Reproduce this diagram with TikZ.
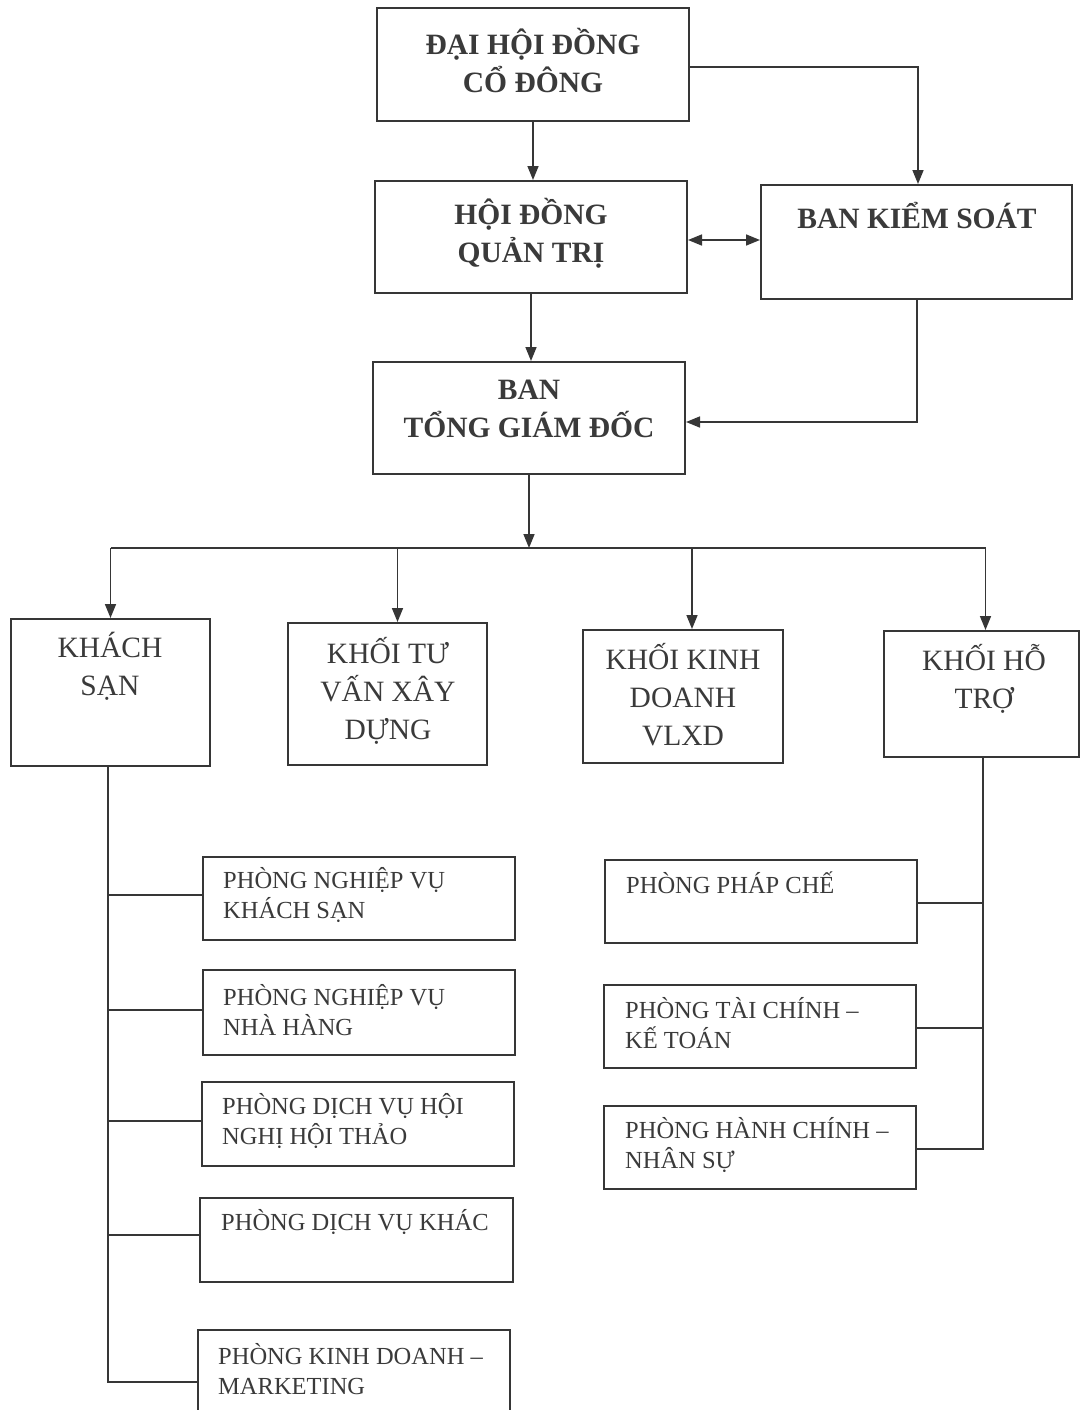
\documentclass[tikz,border=0pt]{standalone}
\usepackage{fontspec}
\setmainfont{Liberation Serif}
\usetikzlibrary{arrows.meta}
\definecolor{ink}{HTML}{363636}
\definecolor{txtc}{HTML}{3A3A3A}
\begin{document}
\begin{tikzpicture}[x=1pt,y=-1pt,
  box/.style={draw=ink, line width=2pt, rectangle, inner sep=0pt},
  topt/.style={text=txtc, align=center, font={\bfseries\fontsize{29.5}{38}\selectfont}},
  midt/.style={text=txtc, align=center, font={\fontsize{29.5}{38}\selectfont}},
  lowt/.style={text=txtc, align=left, anchor=west, inner sep=0pt, font={\fontsize{24.5}{30}\selectfont}},
  conn/.style={draw=ink, line width=1.6pt},
  arr/.style={conn, -{Triangle[length=14pt,width=11pt]}},
  darr/.style={conn, {Triangle[length=14pt,width=11pt]}-{Triangle[length=14pt,width=11pt]}}]
\useasboundingbox[fill=white] (0,0) rectangle (1080,1410);

% top level boxes
\node[box, minimum width=312pt, minimum height=113pt] (dh) at (533,64.5) {};
\node[box, minimum width=312pt, minimum height=112pt] (hd) at (531,237) {};
\node[box, minimum width=311pt, minimum height=114pt] (bks) at (916.5,242) {};
\node[box, minimum width=312pt, minimum height=112pt] (tgd) at (529,418) {};

\node[topt] (dh-t) at (533,61) {ĐẠI HỘI ĐỒNG\\CỔ ĐÔNG};
\node[topt] (hd-t) at (531,233) {HỘI ĐỒNG\\QUẢN TRỊ};
\node[topt] (bks-t) at (917,216) {BAN KIỂM SOÁT};
\node[topt] (tgd-t) at (529,409) {BAN\\TỔNG GIÁM ĐỐC};

% division boxes
\node[box, minimum width=199pt, minimum height=147pt] (ks) at (110.5,692.5) {};
\node[box, minimum width=199pt, minimum height=142pt] (tv) at (387.5,694) {};
\node[box, minimum width=200pt, minimum height=133pt] (kd) at (683,696.5) {};
\node[box, minimum width=195pt, minimum height=126pt] (ht) at (981.5,694) {};

\node[midt] (ks-t) at (110,666) {KHÁCH\\SẠN};
\node[midt] (tv-t) at (388,691) {KHỐI TƯ\\VẤN XÂY\\DỰNG};
\node[midt] (kd-t) at (683,695) {KHỐI KINH\\DOANH\\VLXD};
\node[midt] (ht-t) at (984,678.5) {KHỐI HỖ\\TRỢ};

% left department boxes
\node[box, minimum width=312pt, minimum height=83pt] (p1) at (359,898.5) {};
\node[box, minimum width=312pt, minimum height=85pt] (p2) at (359,1012.5) {};
\node[box, minimum width=312pt, minimum height=84pt] (p3) at (358,1124) {};
\node[box, minimum width=313pt, minimum height=84pt] (p4) at (356.5,1240) {};
\node[box, minimum width=312pt, minimum height=84pt] (p5) at (354,1372) {};

\node[lowt] (p1-t) at (223,895) {PHÒNG NGHIỆP VỤ\\KHÁCH SẠN};
\node[lowt] (p2-t) at (223,1010) {PHÒNG NGHIỆP VỤ\\NHÀ HÀNG};
\node[lowt] (p3-t) at (222,1120.5) {PHÒNG DỊCH VỤ HỘI\\NGHỊ HỘI THẢO};
\node[lowt] (p4-t) at (221,1222) {PHÒNG DỊCH VỤ KHÁC};
\node[lowt] (p5-t) at (218,1369.5) {PHÒNG KINH DOANH –\\MARKETING};

% right department boxes
\node[box, minimum width=312pt, minimum height=83pt] (r1) at (761,901.5) {};
\node[box, minimum width=312pt, minimum height=83pt] (r2) at (760,1026.5) {};
\node[box, minimum width=312pt, minimum height=83pt] (r3) at (760,1147.5) {};

\node[lowt] (r1-t) at (626,883) {PHÒNG PHÁP CHẾ};
\node[lowt] (r2-t) at (625,1023.5) {PHÒNG TÀI CHÍNH –\\KẾ TOÁN};
\node[lowt] (r3-t) at (625,1144.5) {PHÒNG HÀNH CHÍNH –\\NHÂN SỰ};

% connectors, top part
\draw[arr] (dh.south) -- (dh.south |- hd.north);
\draw[arr] ([yshift=-2.5pt]dh.east) -| ([xshift=1.5pt]bks.north);
\draw[darr] ([yshift=-3pt]hd.east) -- ([yshift=-3pt]hd.east -| bks.west);
\draw[arr] (hd.south) -- (hd.south |- tgd.north);
\draw[arr] ([xshift=0.5pt]bks.south) |- ([yshift=-4pt]tgd.east);

% bus
\coordinate (bus) at (528,548);
\draw[arr] (tgd.south) -- (tgd.south |- bus);
\draw[conn] (ks.north |- bus) -- ([xshift=4pt]ht.north |- bus);
\draw[arr] (ks.north |- bus) -- (ks.north);
\draw[arr] ([xshift=10pt]tv.north |- bus) -- ([xshift=10pt]tv.north);
\draw[arr] ([xshift=9pt]kd.north |- bus) -- ([xshift=9pt]kd.north);
\draw[arr] ([xshift=4pt]ht.north |- bus) -- ([xshift=4pt]ht.north);

% left stem
\coordinate (p5in) at ([yshift=-10pt]p5.west);
\coordinate (kstop) at ([xshift=-2.5pt]ks.south);
\draw[conn] (kstop) -- (kstop |- p5in) -- (p5in);
\draw[conn] ([yshift=3.5pt]kstop |- p1.west) -- ([yshift=3.5pt]p1.west);
\draw[conn] ([yshift=2.5pt]kstop |- p2.west) -- ([yshift=2.5pt]p2.west);
\draw[conn] ([yshift=3pt]kstop |- p3.west) -- ([yshift=3pt]p3.west);
\draw[conn] ([yshift=5pt]kstop |- p4.west) -- ([yshift=5pt]p4.west);

% right stem
\coordinate (hstop) at ([xshift=1.5pt]ht.south);
\draw[conn] (hstop) -- ([yshift=-1.5pt]hstop |- r3.east) -- ([yshift=-1.5pt]r3.east);
\draw[conn] ([yshift=-1.5pt]hstop |- r1.east) -- ([yshift=-1.5pt]r1.east);
\draw[conn] ([yshift=-1.5pt]hstop |- r2.east) -- ([yshift=-1.5pt]r2.east);
\end{tikzpicture}
\end{document}
